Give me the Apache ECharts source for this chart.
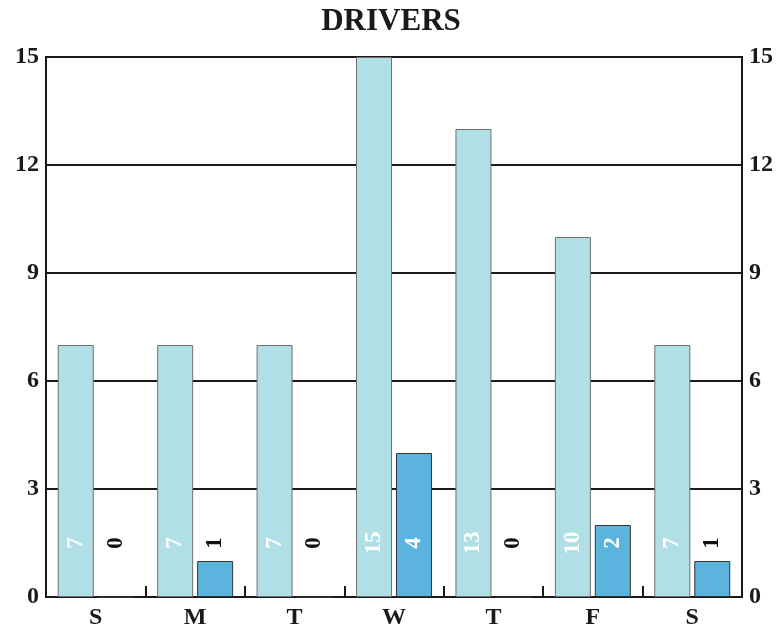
<!DOCTYPE html>
<html><head><meta charset="utf-8">
<script src="https://cdn.jsdelivr.net/npm/echarts@6/dist/echarts.min.js"></script>
<style>html,body{margin:0;padding:0;background:#fff}#c{width:782px;height:634px}</style>
</head><body><div id="c"></div>
<script>
const categories = ['S','M','T','W','T','F','S'];
const seriesA = [7,7,7,15,13,10,7];
const seriesB = [0,1,0,4,0,2,1];
const yTicks = [0,3,6,9,12,15];
const labelLevel = 1.5;

const FONT = '"Liberation Serif","Times New Roman",serif';
const chart = echarts.init(document.getElementById('c'));

function lblColor(v){ return v >= 2 ? '#ffffff' : '#111111'; }

const labelBase = {
  show: true, rotate: 90, fontFamily: FONT, fontWeight: 'bold', fontSize: 23,
  position: 'inside', align: 'center', verticalAlign: 'middle'
};
function layout(params){
  const y = chart.convertToPixel({yAxisIndex:0}, labelLevel);
  return { x: params.rect.x + params.rect.width/2, y: y };
}

const option = {
  animation: false,
  backgroundColor: '#fff',
  title: { text: 'DRIVERS', left: 'center', top: 1,
    textStyle: { fontFamily: FONT, fontWeight: 'bold', fontSize: 31, color: '#1a1a1a' } },
  grid: { left: 46, right: 40, top: 57, bottom: 37, show: true, borderColor: '#1a1a1a', borderWidth: 2, backgroundColor: 'transparent' },
  xAxis: {
    type: 'category', data: categories,
    axisLine: { show: true, lineStyle: { color: '#1a1a1a', width: 2 } },
    axisTick: { show: true, inside: true, length: 11, lineStyle: { color: '#1a1a1a', width: 2 } },
    axisLabel: { fontFamily: FONT, fontWeight: 'bold', fontSize: 24, color: '#1a1a1a', margin: 9 }
  },
  yAxis: [
    { type: 'value', min: yTicks[0], max: yTicks[yTicks.length-1], interval: 3, position: 'left',
      axisLine: { show: false }, axisTick: { show: false },
      splitLine: { show: true, lineStyle: { color: '#1a1a1a', width: 2 } },
      axisLabel: { fontFamily: FONT, fontWeight: 'bold', fontSize: 24, color: '#1a1a1a', margin: 7 } },
    { type: 'value', min: yTicks[0], max: yTicks[yTicks.length-1], interval: 3, position: 'right',
      axisLine: { show: false }, axisTick: { show: false }, splitLine: { show: false },
      axisLabel: { fontFamily: FONT, fontWeight: 'bold', fontSize: 24, color: '#1a1a1a', margin: 7 } }
  ],
  series: [
    { type: 'bar', name: 'A', barWidth: 36, barGap: '11%', barCategoryGap: '23%',
      data: seriesA.map(v => ({ value: v, label: { color: '#ffffff' } })),
      itemStyle: { color: '#b0dfe5', borderColor: '#707070', borderWidth: 1 },
      label: Object.assign({}, labelBase), labelLayout: layout, z: 3 },
    { type: 'bar', name: 'B', barWidth: 36,
      data: seriesB.map(v => ({ value: v, label: { color: lblColor(v) } })),
      itemStyle: { color: '#5ab4de', borderColor: '#333', borderWidth: 1 },
      label: Object.assign({}, labelBase, { formatter: p => String(p.value) }), labelLayout: layout, z: 3 }
  ]
};
chart.setOption(option);
</script></body></html>
